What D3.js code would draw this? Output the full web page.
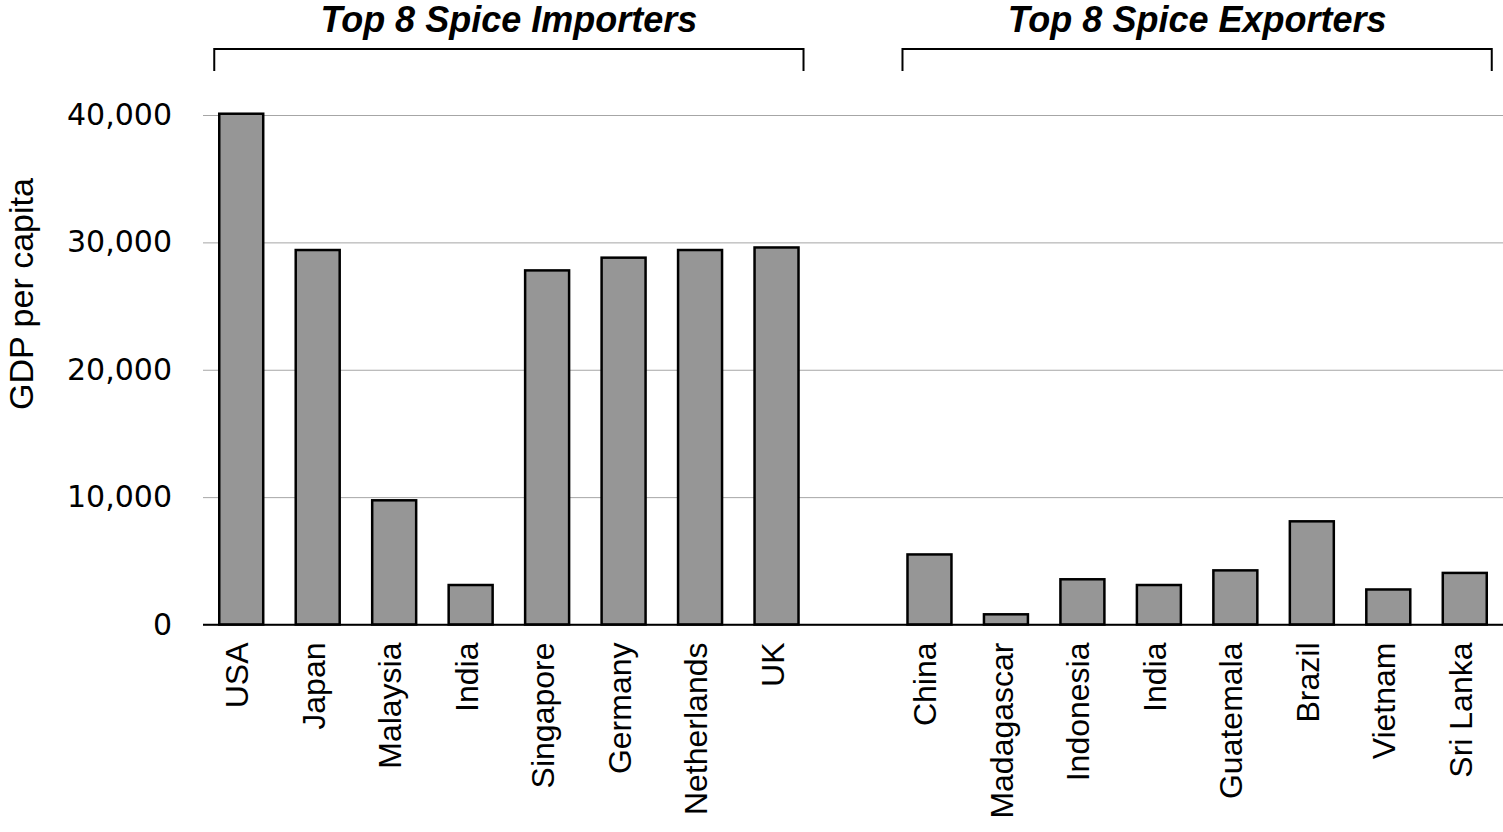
<!DOCTYPE html>
<html>
<head>
<meta charset="utf-8">
<script src="https://cdn.jsdelivr.net/npm/d3@7"></script>
<style>
  body { margin: 0; background: #fff; }
  svg { display: block; }
</style>
</head>
<body>
<div id="chart"></div>
<script>
// data
const importers = ["USA", "Japan", "Malaysia", "India", "Singapore", "Germany", "Netherlands", "UK"];
const importerGdp = [40100, 29400, 9750, 3100, 27800, 28800, 29400, 29600];
const exporters = ["China", "Madagascar", "Indonesia", "India", "Guatemala", "Brazil", "Vietnam", "Sri Lanka"];
const exporterGdp = [5500, 800, 3550, 3100, 4250, 8100, 2750, 4050];
const yTicks = [0, 10000, 20000, 30000, 40000];
const groupTitles = ["Top 8 Spice Importers", "Top 8 Spice Exporters"];

const width = 1503;
const height = 832;
const margins = { top: 115, bottom: 207.5, left: 203, right: 0 };

// one row per bar, plus an empty slot between the two groups
const rows = importers.map((c, i) => ({ key: "imp-" + c, name: c, value: importerGdp[i], group: 0 }))
  .concat([{ key: "gap", name: "", value: null, group: -1 }])
  .concat(exporters.map((c, i) => ({ key: "exp-" + c, name: c, value: exporterGdp[i], group: 1 })));

const xScale = d3.scaleBand()
  .domain(rows.map(d => d.key))
  .range([margins.left, width - margins.right])
  .paddingInner(0.425)
  .paddingOuter(0.2125);

const yScale = d3.scaleLinear()
  .domain([0, 40000])
  .range([height - margins.bottom, margins.top]);

const svg = d3.select("#chart")
  .append("svg")
  .attr("width", width)
  .attr("height", height);

// gridlines + tick labels
const yAxis = svg.append("g")
  .attr("transform", `translate(${margins.left},0)`)
  .call(d3.axisLeft(yScale)
    .tickValues(yTicks)
    .tickFormat(d3.format(","))
    .tickSizeInner(-(width - margins.left - margins.right))
    .tickSizeOuter(0)
    .tickPadding(31));

yAxis.select(".domain").remove();
yAxis.selectAll(".tick line")
  .attr("stroke", d => d === 0 ? "#000" : "#a6a6a6")
  .attr("stroke-width", d => d === 0 ? 1.5 : 1);
yAxis.selectAll(".tick text")
  .attr("fill", "#000")
  .style("font-family", "'DejaVu Sans', sans-serif")
  .style("font-size", "30px");

// y axis title
svg.append("text")
  .attr("transform", "translate(33,294) rotate(-90)")
  .attr("text-anchor", "middle")
  .style("font-family", "Arial, 'Liberation Sans', sans-serif")
  .style("font-size", "34px")
  .text("GDP per capita");

// bars
const barData = rows.filter(d => d.value !== null);

svg.selectAll("rect.bar")
  .data(barData)
  .join("rect")
  .attr("class", "bar")
  .attr("x", d => xScale(d.key))
  .attr("y", d => yScale(d.value))
  .attr("width", xScale.bandwidth())
  .attr("height", d => yScale(0) - yScale(d.value))
  .attr("fill", "#969696")
  .attr("stroke", "#000")
  .attr("stroke-width", 2.5);

// redraw the zero line on top of the bar outlines
svg.append("line")
  .attr("x1", margins.left)
  .attr("x2", width - margins.right)
  .attr("y1", yScale(0))
  .attr("y2", yScale(0))
  .attr("stroke", "#000")
  .attr("stroke-width", 1.5);

// category labels, rotated
svg.selectAll("text.country")
  .data(barData)
  .join("text")
  .attr("class", "country")
  .attr("transform", d => `translate(${xScale(d.key) + xScale.bandwidth() / 2},${yScale(0) + 18}) rotate(-90)`)
  .attr("dy", 7)
  .attr("text-anchor", "end")
  .style("font-family", "Arial, 'Liberation Sans', sans-serif")
  .style("font-size", "32px")
  .text(d => d.name);

// group brackets and titles
const groups = [0, 1].map(g => {
  const keys = rows.filter(d => d.group === g).map(d => d.key);
  return {
    title: groupTitles[g],
    x0: xScale(keys[0]) - 5,
    x1: xScale(keys[keys.length - 1]) + xScale.bandwidth() + 5
  };
});

svg.selectAll("path.bracket")
  .data(groups)
  .join("path")
  .attr("class", "bracket")
  .attr("d", d => `M${d.x0},71V49H${d.x1}V71`)
  .attr("fill", "none")
  .attr("stroke", "#000")
  .attr("stroke-width", 2);

svg.selectAll("text.group")
  .data(groups)
  .join("text")
  .attr("class", "group")
  .attr("x", d => (d.x0 + d.x1) / 2)
  .attr("y", 32)
  .attr("text-anchor", "middle")
  .style("font-family", "Arial, 'Liberation Sans', sans-serif")
  .style("font-size", "36px")
  .style("font-weight", "bold")
  .style("font-style", "italic")
  .text(d => d.title);
</script>
</body>
</html>
